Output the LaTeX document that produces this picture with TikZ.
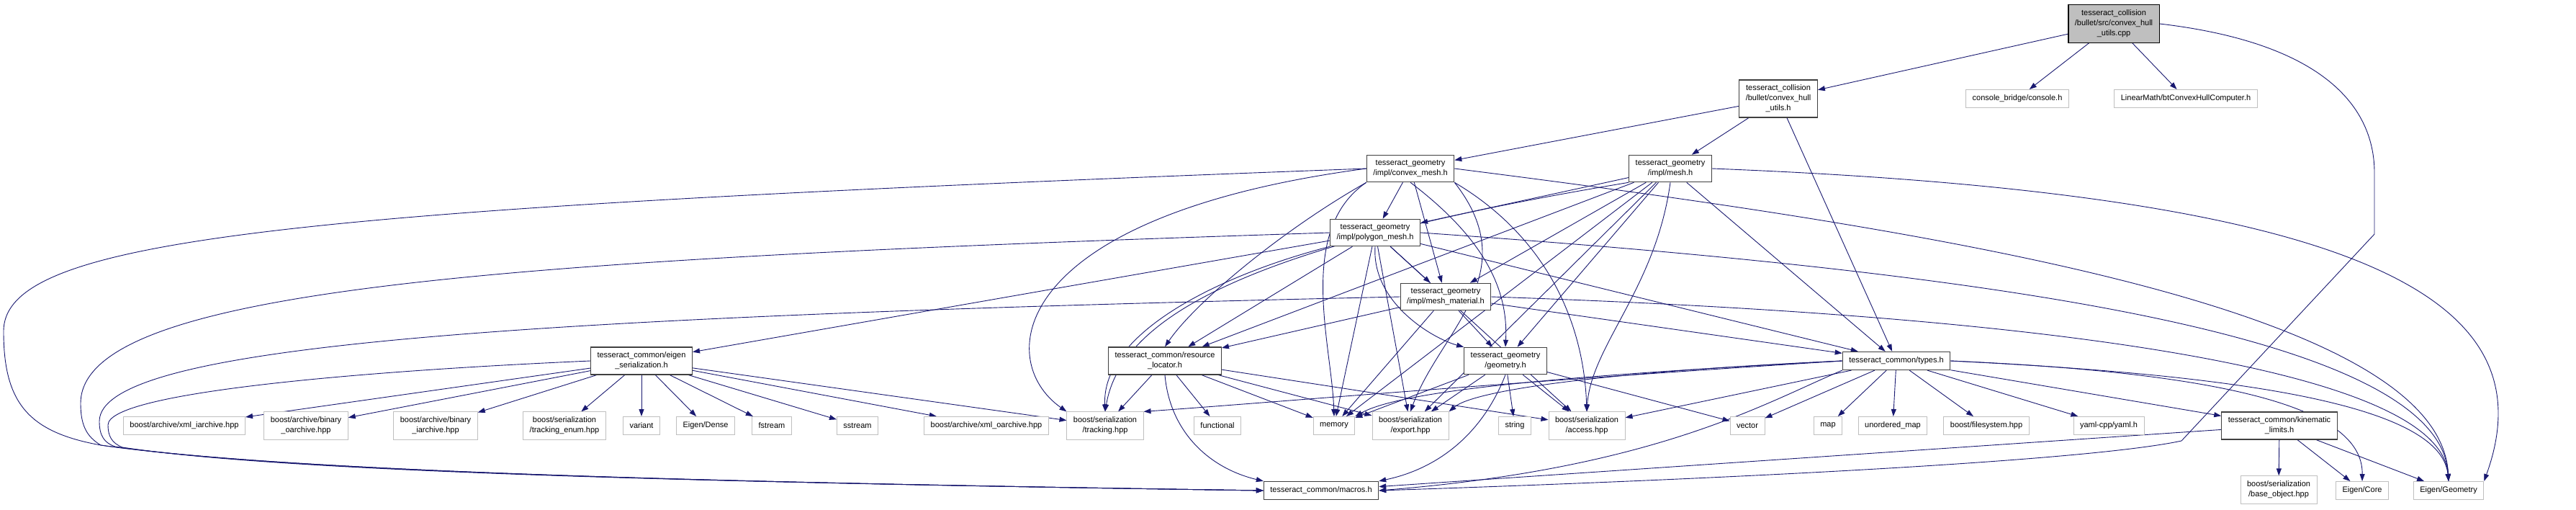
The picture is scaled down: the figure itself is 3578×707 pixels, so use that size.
\documentclass[tikz,border=0pt]{standalone}
\usepackage{fontspec}
\setmainfont{Liberation Sans}
\usetikzlibrary{arrows.meta}
\definecolor{edgeblue}{HTML}{191970}
\definecolor{extgray}{HTML}{BFBFBF}
\pgfdeclarelayer{bg}
\pgfsetlayers{bg,main}
\tikzset{
  hdr/.style={draw=black!75, line width=1.2pt, fill=white, align=center,
    inner xsep=9pt, inner ysep=7pt, minimum height=25pt,
    font=\fontsize{11}{14}\selectfont},
  ext/.style={hdr, draw=extgray, line width=1pt},
  rootbox/.style={hdr, fill=extgray, draw=black},
  dep/.style={draw=edgeblue, line width=0.9pt, -{Triangle[length=10pt,width=7pt]}},
}
\begin{document}
\begin{tikzpicture}[x=1pt, y=-1pt]
  \useasboundingbox (0,0) rectangle (3578,707);
  % header nodes
  \node[rootbox] (root) at (2936,33) {tesseract\_collision\\/bullet/src/convex\_hull\\\_utils.cpp};
  \node[hdr] (chull) at (2470,137) {tesseract\_collision\\/bullet/convex\_hull\\\_utils.h};
  \node[ext] (console) at (2802,137) {console\_bridge/console.h};
  \node[ext] (btc) at (3036,137) {LinearMath/btConvexHullComputer.h};
  \node[hdr] (cmesh) at (1959,234) {tesseract\_geometry\\/impl/convex\_mesh.h};
  \node[hdr] (mesh) at (2320,234) {tesseract\_geometry\\/impl/mesh.h};
  \node[hdr] (poly) at (1910,323) {tesseract\_geometry\\/impl/polygon\_mesh.h};
  \node[hdr] (mat) at (2008,412) {tesseract\_geometry\\/impl/mesh\_material.h};
  \node[hdr] (eser) at (891,501) {tesseract\_common/eigen\\\_serialization.h};
  \node[hdr] (rloc) at (1618,501) {tesseract\_common/resource\\\_locator.h};
  \node[hdr] (geom) at (2091,501) {tesseract\_geometry\\/geometry.h};
  \node[hdr] (types) at (2634,501) {tesseract\_common/types.h};
  \node[hdr] (kin) at (3166,591) {tesseract\_common/kinematic\\\_limits.h};
  \node[hdr] (mac) at (1835,681) {tesseract\_common/macros.h};
  % system headers
  \node[ext] (xia) at (256,591) {boost/archive/xml\_iarchive.hpp};
  \node[ext] (boa) at (425,591) {boost/archive/binary\\\_oarchive.hpp};
  \node[ext] (bia) at (605,591) {boost/archive/binary\\\_iarchive.hpp};
  \node[ext] (tenum) at (784,591) {boost/serialization\\/tracking\_enum.hpp};
  \node[ext] (var) at (891,591) {variant};
  \node[ext] (dense) at (980,591) {Eigen/Dense};
  \node[ext] (fst) at (1072,591) {fstream};
  \node[ext] (sst) at (1191,591) {sstream};
  \node[ext] (xoa) at (1370,591) {boost/archive/xml\_oarchive.hpp};
  \node[ext] (trk) at (1535,591) {boost/serialization\\/tracking.hpp};
  \node[ext] (func) at (1691,591) {functional};
  \node[ext] (mem) at (1853,591) {memory};
  \node[ext] (exp) at (1959,591) {boost/serialization\\/export.hpp};
  \node[ext] (str) at (2104,591) {string};
  \node[ext] (acc) at (2204,591) {boost/serialization\\/access.hpp};
  \node[ext] (vec) at (2427,591) {vector};
  \node[ext] (map) at (2539,591) {map};
  \node[ext] (umap) at (2629,591) {unordered\_map};
  \node[ext] (fs) at (2759,591) {boost/filesystem.hpp};
  \node[ext] (yaml) at (2929,591) {yaml-cpp/yaml.h};
  \node[ext] (base) at (3165,680) {boost/serialization\\/base\_object.hpp};
  \node[ext] (core) at (3281,681) {Eigen/Core};
  \node[ext] (egeo) at (3401,681) {Eigen/Geometry};

  \begin{pgfonlayer}{bg}
  % convex_hull_utils.cpp
  \draw[dep] (root) -- (chull);
  \draw[dep] (root) -- (console);
  \draw[dep] (root) -- (btc);
  \draw[dep] (root.east) .. controls (3230,60) and (3298,150) .. (3298,240) -- (3298,325) -- (3030,612) .. controls (2900,640) and (2400,665) .. (mac.east);
  % convex_hull_utils.h
  \draw[dep] (chull) -- (cmesh);
  \draw[dep] (chull) -- (mesh);
  \draw[dep] (chull) -- (types);
  % convex_mesh.h
  \draw[dep] (cmesh) -- (poly);
  \draw[dep] (cmesh) -- (mat);
  \draw[dep] (cmesh.south) .. controls (2060,330) and (2095,400) .. (geom.north);
  \draw[dep] (cmesh.south west) .. controls (1780,320) and (1660,420) .. (rloc.north);
  \draw[dep] (cmesh.west) .. controls (400,290) and (5,330) .. (5,460) .. controls (5,560) and (40,600) .. (140,618) .. controls (400,655) and (1000,670) .. (mac.west);
  \draw[dep] (cmesh.west) .. controls (1400,300) and (1380,500) .. (trk.north west);
  \draw[dep] (cmesh.south west) .. controls (1800,320) and (1850,480) .. (mem.north);
  \draw[dep] (cmesh.south east) .. controls (2120,380) and (2000,460) .. (exp.north);
  \draw[dep] (cmesh.south east) .. controls (2150,330) and (2200,450) .. (acc.north);
  \draw[dep] (cmesh.east) .. controls (2700,320) and (3390,430) .. (egeo.north);
  % mesh.h
  \draw[dep] (mesh) -- (poly);
  \draw[dep] (mesh) -- (mat);
  \draw[dep] (mesh) -- (geom);
  \draw[dep] (mesh) -- (rloc);
  \draw[dep] (mesh) -- (types);
  \draw[dep] (mesh.south west) .. controls (1800,330) and (1560,420) .. (trk.north);
  \draw[dep] (mesh) -- (mem);
  \draw[dep] (mesh) -- (exp);
  \draw[dep] (mesh.south) .. controls (2300,400) and (2210,480) .. (acc.north);
  \draw[dep] (mesh.east) .. controls (3300,270) and (3540,420) .. (egeo.north east);
  % polygon_mesh.h
  \draw[dep] (poly) -- (mat);
  \draw[dep] (poly.south) .. controls (1905,420) and (1990,470) .. (geom.north west);
  \draw[dep] (poly) -- (rloc);
  \draw[dep] (poly) -- (eser);
  \draw[dep] (poly) -- (types);
  \draw[dep] (poly.west) .. controls (700,360) and (112,400) .. (112,560) .. controls (112,590) and (120,606) .. (140,618) .. controls (400,655) and (1000,670) .. (mac.west);
  \draw[dep] (poly.south west) .. controls (1700,380) and (1530,460) .. (trk.north);
  \draw[dep] (poly) -- (mem);
  \draw[dep] (poly) -- (exp);
  \draw[dep] (poly) -- (acc);
  \draw[dep] (poly.east) .. controls (2800,380) and (3390,470) .. (egeo.north);
  % mesh_material.h
  \draw[dep] (mat) -- (geom);
  \draw[dep] (mat) -- (rloc);
  \draw[dep] (mat) -- (types);
  \draw[dep] (mat.west) .. controls (700,440) and (138,480) .. (138,585) .. controls (138,605) and (145,615) .. (160,620) .. controls (400,655) and (1000,670) .. (mac.west);
  \draw[dep] (mat) -- (mem);
  \draw[dep] (mat.east) .. controls (2900,440) and (3390,520) .. (egeo.north);
  % geometry.h
  \draw[dep] (geom.south) .. controls (2060,600) and (2000,650) .. (mac.north east);
  \draw[dep] (geom) -- (mem);
  \draw[dep] (geom) -- (exp);
  \draw[dep] (geom) -- (str);
  \draw[dep] (geom) -- (acc);
  \draw[dep] (geom) -- (vec);
  % resource_locator.h
  \draw[dep] (rloc.south) .. controls (1625,600) and (1680,650) .. (mac.north west);
  \draw[dep] (rloc) -- (trk);
  \draw[dep] (rloc) -- (func);
  \draw[dep] (rloc) -- (mem);
  \draw[dep] (rloc) -- (exp);
  \draw[dep] (rloc) -- (acc);
  % eigen_serialization.h
  \draw[dep] (eser.west) .. controls (500,515) and (150,545) .. (150,590) .. controls (150,605) and (155,615) .. (170,621) .. controls (400,656) and (1000,670) .. (mac.west);
  \draw[dep] (eser) -- (xia);
  \draw[dep] (eser) -- (boa);
  \draw[dep] (eser) -- (bia);
  \draw[dep] (eser) -- (tenum);
  \draw[dep] (eser) -- (var);
  \draw[dep] (eser) -- (dense);
  \draw[dep] (eser) -- (fst);
  \draw[dep] (eser) -- (sst);
  \draw[dep] (eser) -- (xoa);
  \draw[dep] (eser) -- (trk);
  % types.h
  \draw[dep] (types.south west) .. controls (2450,560) and (2300,650) .. (mac.east);
  \draw[dep] (types) -- (vec);
  \draw[dep] (types) -- (map);
  \draw[dep] (types) -- (umap);
  \draw[dep] (types) -- (fs);
  \draw[dep] (types) -- (yaml);
  \draw[dep] (types) -- (kin);
  \draw[dep] (types.east) .. controls (3150,520) and (3282,580) .. (core.north);
  \draw[dep] (types.east) .. controls (3100,520) and (3390,560) .. (egeo.north);
  \draw[dep] (types.west) .. controls (2200,520) and (1950,540) .. (mem.north east);
  \draw[dep] (types.west) .. controls (2250,515) and (2050,540) .. (exp.north east);
  \draw[dep] (types) -- (acc);
  \draw[dep] (types.west) .. controls (2100,530) and (1750,560) .. (trk.north east);
  % kinematic_limits.h
  \draw[dep] (kin) -- (mac);
  \draw[dep] (kin) -- (base);
  \draw[dep] (kin) -- (core);
  \draw[dep] (kin) -- (egeo);
  \end{pgfonlayer}
\end{tikzpicture}
\end{document}
